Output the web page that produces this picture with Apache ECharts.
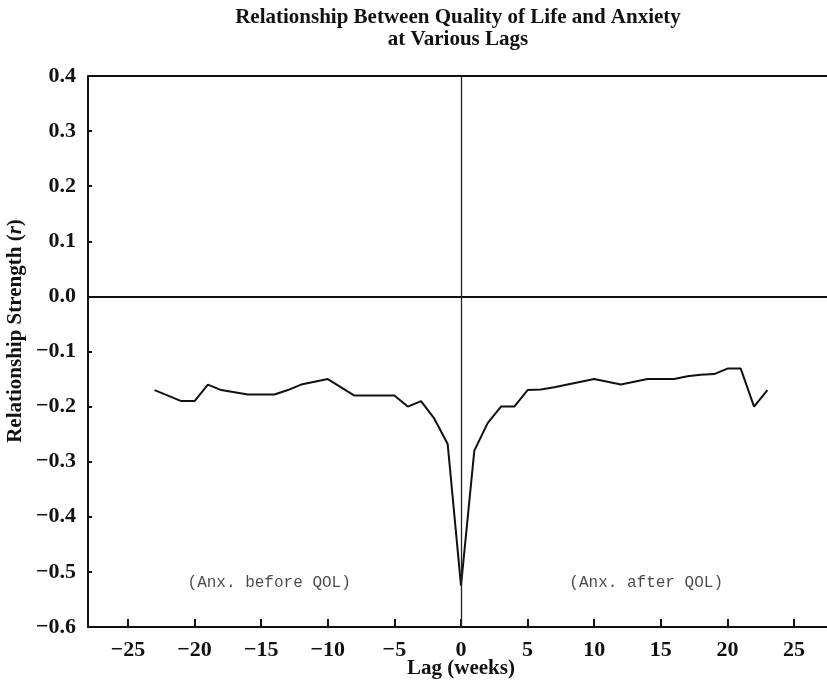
<!DOCTYPE html>
<html>
<head>
<meta charset="utf-8">
<script src="https://cdn.jsdelivr.net/npm/echarts@6/dist/echarts.min.js"></script>
<style>
  html, body { margin: 0; padding: 0; background: #fff; }
  #main { width: 827px; height: 681px; }
</style>
</head>
<body>
<div id="main"></div>
<script>
// lag in weeks and correlation
var lags = [-23, -22, -21, -20, -19, -18, -17, -16, -15, -14, -13, -12, -11, -10, -9, -8, -7, -6, -5, -4, -3, -2, -1,
    0, 1, 2, 3, 4, 5, 6, 7, 8, 9, 10, 11, 12, 13, 14, 15, 16, 17, 18, 19, 20, 21, 22, 23];
var rValues = [-0.17, -0.18, -0.19, -0.19, -0.16, -0.17, -0.174, -0.178, -0.178, -0.178, -0.17, -0.16, -0.155, -0.15,
    -0.165, -0.18, -0.18, -0.18, -0.18, -0.20, -0.19, -0.222, -0.268,
    -0.525, -0.28, -0.23, -0.20, -0.20, -0.17, -0.169, -0.165, -0.16, -0.155, -0.15, -0.155, -0.16, -0.155,
    -0.15, -0.15, -0.15, -0.145, -0.142, -0.141, -0.131, -0.131, -0.20, -0.17];
var xTicks = [-25, -20, -15, -10, -5, 0, 5, 10, 15, 20, 25];
var noteText = ['(Anx. before QOL)', '(Anx. after QOL)'];
var noteX = [-14.4, 13.9];
var noteY = [-0.52, -0.52];

var serif = 'Liberation Serif';
var minus = function (s) { return String(s).replace('-', '\u2212'); };

var myChart = echarts.init(document.getElementById('main'));
var option = {
    backgroundColor: '#fff',
    animation: false,
    title: {
        text: 'Relationship Between Quality of Life and Anxiety\nat Various Lags',
        left: 453,
        top: 2,
        textAlign: 'center',
        textStyle: {
            fontFamily: serif,
            fontWeight: 'bold',
            fontSize: 21,
            lineHeight: 22,
            color: '#111'
        }
    },
    grid: {
        left: 88,
        right: -7,
        top: 76,
        bottom: 54,
        outerBoundsMode: 'none'
    },
    xAxis: {
        type: 'value',
        min: -28,
        max: 28,
        name: 'Lag (weeks)',
        nameLocation: 'middle',
        nameGap: 31,
        nameMoveOverlap: false,
        nameTextStyle: {
            fontFamily: serif,
            fontWeight: 'bold',
            fontSize: 21,
            color: '#111'
        },
        splitLine: { show: false },
        axisLine: {
            onZero: false,
            lineStyle: { color: '#111', width: 2 }
        },
        axisTick: {
            inside: true,
            length: 8,
            customValues: xTicks,
            lineStyle: { color: '#111', width: 2 }
        },
        axisLabel: {
            customValues: xTicks,
            margin: 12,
            fontFamily: serif,
            fontWeight: 'bold',
            fontSize: 22,
            color: '#111',
            formatter: function (v) { return minus(v); }
        }
    },
    yAxis: {
        type: 'value',
        min: -0.6,
        max: 0.4,
        interval: 0.1,
        splitLine: { show: false },
        axisLine: {
            onZero: false,
            lineStyle: { color: '#111', width: 2 }
        },
        axisTick: {
            inside: true,
            length: 4,
            lineStyle: { color: '#111', width: 2 }
        },
        axisLabel: {
            margin: 12,
            fontFamily: serif,
            fontWeight: 'bold',
            fontSize: 22,
            color: '#111',
            formatter: function (v) { return minus(v.toFixed(1)); }
        }
    },
    graphic: [{
        type: 'text',
        x: 16,
        y: 331,
        rotation: Math.PI / 2,
        style: {
            text: '{a|Relationship Strength (}{b|r}{a|)}',
            align: 'center',
            verticalAlign: 'middle',
            fill: '#111',
            rich: {
                a: { fontFamily: serif, fontWeight: 'bold', fontSize: 21, fill: '#111' },
                b: { fontFamily: serif, fontWeight: 'bold', fontStyle: 'italic', fontSize: 21, fill: '#111' }
            }
        }
    }],
    series: [{
        type: 'line',
        data: lags.map(function (l, i) { return [l, rValues[i]]; }),
        symbol: 'none',
        lineStyle: { color: '#111', width: 2 },
        markLine: {
            silent: true,
            symbol: 'none',
            label: { show: false },
            data: [
                { yAxis: 0, lineStyle: { color: '#111', width: 2, type: 'solid' } },
                { yAxis: 0.4, lineStyle: { color: '#111', width: 2, type: 'solid' } },
                { xAxis: 0, lineStyle: { color: '#222', width: 1.3, type: 'solid' } }
            ]
        }
    }, {
        type: 'scatter',
        symbolSize: 0,
        silent: true,
        data: noteText.map(function (t, i) { return { value: [noteX[i], noteY[i]], name: t }; }),
        label: {
            show: true,
            position: 'inside',
            formatter: '{b}',
            fontFamily: 'Liberation Mono',
            fontSize: 16,
            color: '#1a1a1a'
        }
    }]
};
myChart.setOption(option);
</script>
</body>
</html>
